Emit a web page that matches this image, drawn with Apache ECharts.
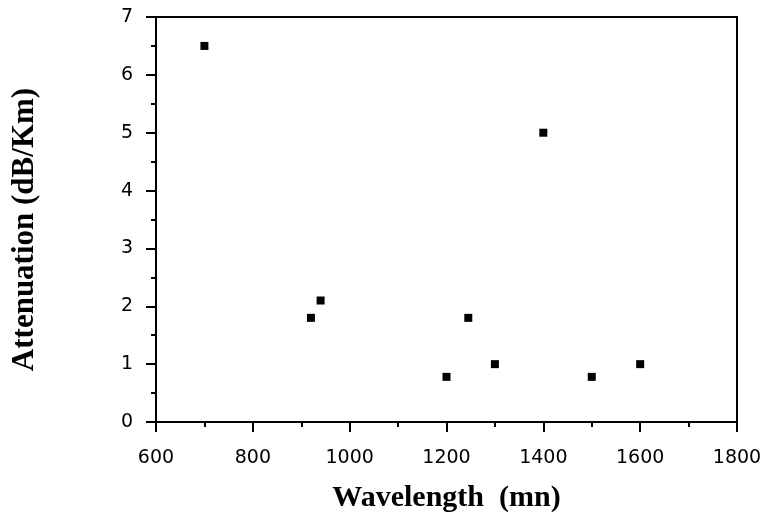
<!DOCTYPE html>
<html>
<head>
<meta charset="utf-8">
<script src="https://cdn.jsdelivr.net/npm/echarts@6/dist/echarts.min.js"></script>
<style>
html,body{margin:0;padding:0;background:#fff;}
#chart{width:773px;height:516px;}
</style>
</head>
<body>
<div id="chart"></div>
<script>
var wavelength = [700, 920, 940, 1200, 1245, 1300, 1400, 1500, 1600];
var attenuation = [6.5, 1.8, 2.1, 0.78, 1.8, 1.0, 5.0, 0.78, 1.0];
var xTitle = 'Wavelength  (mn)';
var yTitle = 'Attenuation (dB/Km)';

var points = wavelength.map(function (w, i) { return [w, attenuation[i]]; });

var chart = echarts.init(document.getElementById('chart'), null, {renderer: 'canvas'});
chart.setOption({
  animation: false,
  backgroundColor: '#fff',
  grid: {
    left: 156, right: 36, top: 17, bottom: 94,
    containLabel: false, outerBoundsMode: 'none',
    show: true, borderColor: '#000', borderWidth: 2, backgroundColor: 'transparent'
  },
  xAxis: {
    type: 'value', min: 600, max: 1800, interval: 200,
    name: xTitle, nameLocation: 'middle', nameGap: 61,
    nameTextStyle: {fontFamily: 'Liberation Serif', fontWeight: 'bold', fontSize: 30, color: '#000'},
    axisLine: {show: true, onZero: false, lineStyle: {color: '#000', width: 2}},
    axisTick: {show: true, length: 10, lineStyle: {color: '#000', width: 2}},
    minorTick: {show: true, splitNumber: 2, length: 5, lineStyle: {color: '#000', width: 2}},
    splitLine: {show: false},
    axisLabel: {margin: 27, fontFamily: 'DejaVu Sans', fontSize: 19, color: '#000',
      formatter: function (v) { return String(v); }}
  },
  yAxis: {
    type: 'value', min: 0, max: 7, interval: 1,
    name: yTitle, nameLocation: 'middle', nameGap: 116, nameRotate: 90,
    nameTextStyle: {fontFamily: 'Liberation Serif', fontWeight: 'bold', fontSize: 31, color: '#000', padding: [0, 0, 0, -20]},
    axisLine: {show: true, onZero: false, lineStyle: {color: '#000', width: 2}},
    axisTick: {show: true, length: 10, lineStyle: {color: '#000', width: 2}},
    minorTick: {show: true, splitNumber: 2, length: 5, lineStyle: {color: '#000', width: 2}},
    splitLine: {show: false},
    axisLabel: {margin: 23, fontFamily: 'DejaVu Sans', fontSize: 19, color: '#000',
      formatter: function (v) { return String(v); }}
  },
  series: [{
    type: 'scatter',
    data: points,
    symbol: 'rect',
    symbolSize: 8,
    itemStyle: {color: '#000', opacity: 1}
  }]
});
</script>
</body>
</html>
